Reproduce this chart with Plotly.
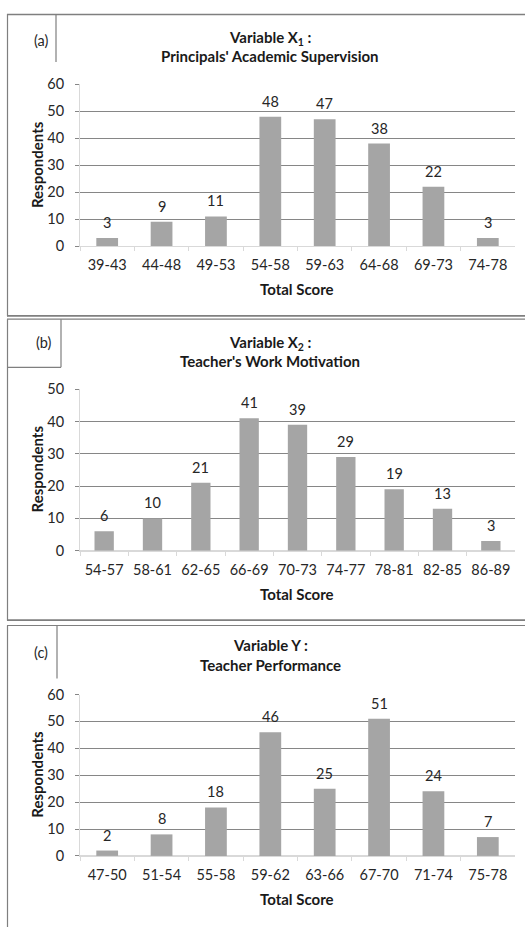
import plotly.graph_objects as go

W, H = 525, 929

# ---- data ----
cats_a = ["39-43", "44-48", "49-53", "54-58", "59-63", "64-68", "69-73", "74-78"]
vals_a = [3, 9, 11, 48, 47, 38, 22, 3]
cats_b = ["54-57", "58-61", "62-65", "66-69", "70-73", "74-77", "78-81", "82-85", "86-89"]
vals_b = [6, 10, 21, 41, 39, 29, 19, 13, 3]
cats_c = ["47-50", "51-54", "55-58", "59-62", "63-66", "67-70", "71-74", "75-78"]
vals_c = [2, 8, 18, 46, 25, 51, 24, 7]

titles_l1 = ["Variable X<sub>1</sub> :", "Variable X<sub>2</sub> :", "Variable Y :"]
titles_l2 = ["Principals' Academic Supervision", "Teacher's Work Motivation", "Teacher Performance"]
panel_labels = ["(a)", "(b)", "(c)"]
y_max = [60, 50, 60]

FONT = "Lato"
BAR = "#a5a5a5"
GRID = "#868686"
AXL = "#d9d9d9"
BORDER = "#7f7f7f"
TXT = "#262626"
FS = 14.5
FT = 15

def px(x):
    return x / W

def py(y):
    return 1 - y / H

# pixel geometry per panel: (top of plot, bottom of plot)
plot_tb = [(76.7, 241.5), (387.3, 551.8), (698.3, 862.7)]
x_l, x_r = 80, 515
title_y = [(30, 48), (340, 359), (648, 668)]
label_pos = [(32, 32), (34, 340), (32, 655)]
resp_y = [159, 469, 780]

fig = go.Figure()
datas = [(cats_a, vals_a), (cats_b, vals_b), (cats_c, vals_c)]

annotations = []
for i, (cats, vals) in enumerate(datas):
    xa = "x" if i == 0 else f"x{i+1}"
    ya = "y" if i == 0 else f"y{i+1}"
    fig.add_trace(go.Bar(x=cats, y=vals, marker=dict(color=BAR, line=dict(width=0)),
                         xaxis=xa, yaxis=ya, showlegend=False, hoverinfo="skip"))
    for c, v in zip(cats, vals):
        annotations.append(dict(x=c, y=v, xref=xa, yref=ya, text=str(v), showarrow=False,
                                yanchor="bottom", yshift=5,
                                font=dict(family=FONT, size=FS, color=TXT)))
    top, bot = plot_tb[i]
    xkey = "xaxis" if i == 0 else f"xaxis{i+1}"
    ykey = "yaxis" if i == 0 else f"yaxis{i+1}"
    fig.update_layout(**{
        xkey: dict(domain=[px(x_l), px(x_r)], anchor=ya, type="category",
                   showline=True, linecolor=AXL, linewidth=1,
                   ticks="outside", tickson="boundaries", ticklen=4, tickcolor=AXL,
                   showgrid=False, ticklabelstandoff=6,
                   tickfont=dict(family=FONT, size=FS, color=TXT)),
        ykey: dict(domain=[py(bot), py(top)], anchor=xa, range=[0, y_max[i]], dtick=10,
                   showline=True, linecolor=AXL, linewidth=1,
                   ticks="outside", ticklen=4, tickcolor=GRID,
                   showgrid=True, gridcolor=GRID, gridwidth=1,
                   zeroline=True, zerolinecolor=AXL, zerolinewidth=1,
                   ticklabelstandoff=8,
                   tickfont=dict(family=FONT, size=FS, color=TXT)),
    })
    # titles
    annotations.append(dict(x=px(270), y=py(title_y[i][0]), xref="paper", yref="paper",
                            text=titles_l1[i], showarrow=False, yanchor="middle",
                            font=dict(family=FONT, size=FT, color="#1a1a1a", weight="bold")))
    annotations.append(dict(x=px(270), y=py(title_y[i][1]), xref="paper", yref="paper",
                            text=titles_l2[i], showarrow=False, yanchor="middle",
                            font=dict(family=FONT, size=FT, color="#1a1a1a", weight="bold")))
    # axis titles
    annotations.append(dict(x=px(297), y=py(bot + 44), xref="paper", yref="paper",
                            text="Total Score", showarrow=False, yanchor="middle",
                            font=dict(family=FONT, size=FT, color="#1a1a1a", weight="bold")))
    annotations.append(dict(x=px(37), y=py(resp_y[i]), xref="paper", yref="paper",
                            text="Respondents", showarrow=False, textangle=-90,
                            xanchor="center", yanchor="middle",
                            font=dict(family=FONT, size=FT, color="#1a1a1a", weight="bold")))
    # panel label
    annotations.append(dict(x=px(label_pos[i][0]), y=py(label_pos[i][1]), xref="paper", yref="paper",
                            text=panel_labels[i], showarrow=False, yanchor="middle",
                            font=dict(family=FONT, size=FS, color=TXT)))

shapes = []
def line(x0, y0, x1, y1, w=1.2, c=BORDER):
    shapes.append(dict(type="line", xref="paper", yref="paper",
                       x0=px(x0), y0=py(y0), x1=px(x1), y1=py(y1),
                       line=dict(color=c, width=w)))

# panel (a)
line(7, 5.5, 530, 5.5, 1.5)
line(7.5, 5, 7.5, 313)
line(7, 312.5, 530, 312.5, 1.8)
line(56, 5, 56, 54)
# panel (b)
line(7, 316, 530, 316, 1.2)
line(7.5, 316, 7.5, 623)
line(7, 622.5, 530, 622.5, 1.8)
line(61, 316, 61, 365)
line(7, 365, 61, 365)
# panel (c)
line(7, 628, 530, 628, 1.2)
line(7.5, 628, 7.5, 935)
line(57, 628, 57, 682)

fig.update_layout(width=W, height=H, autosize=False,
                  margin=dict(l=0, r=0, t=0, b=0),
                  paper_bgcolor="white", plot_bgcolor="white",
                  bargap=0.6, annotations=annotations, shapes=shapes)

fig.write_html("out.html", config={"displayModeBar": False},
               post_script="document.body.style.margin='0';document.body.style.overflow='hidden';")
